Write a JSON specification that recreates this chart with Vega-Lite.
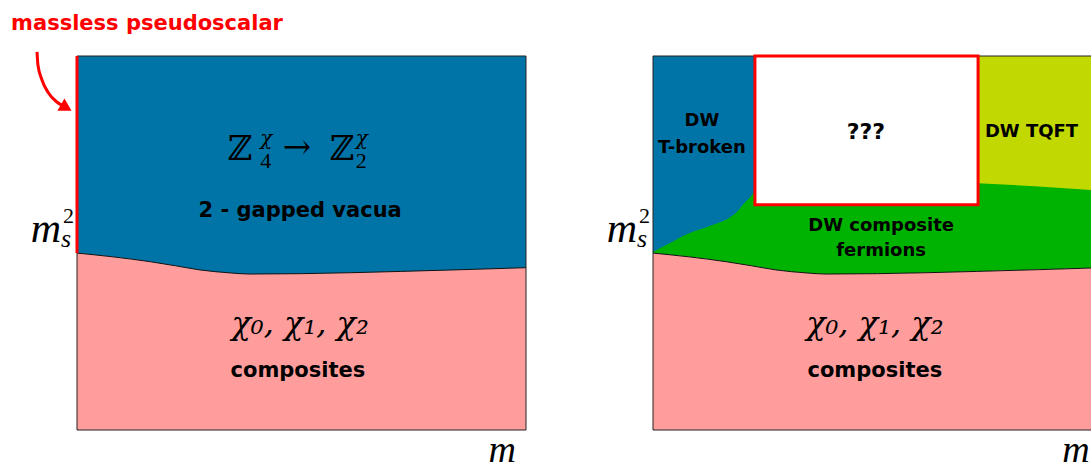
{
  "$schema": "https://vega.github.io/schema/vega-lite/v6.json",
  "autosize": {"type": "pad"},
  "padding": 0,
  "bounds": "flush",
  "spacing": 127,
  "background": "white",
  "config": {"view": {"stroke": null}, "axis": {"disable": true}},
  "datasets": {
    "boundary": [
      {"x": 0, "y": 0.473}, {"x": 0.08, "y": 0.463}, {"x": 0.163, "y": 0.45}, {"x": 0.22, "y": 0.439},
      {"x": 0.274, "y": 0.428}, {"x": 0.341, "y": 0.42}, {"x": 0.385, "y": 0.417}, {"x": 0.5, "y": 0.418},
      {"x": 0.72, "y": 0.424}, {"x": 1.0, "y": 0.434}
    ],
    "extent": [{"x1": -0.1713, "x2": 0, "y1": -0.1068, "y2": 1.1495}],
    "arrow": [
      {"x": -0.089, "y": 1.011}, {"x": -0.087, "y": 0.976}, {"x": -0.078, "y": 0.936},
      {"x": -0.065, "y": 0.904}, {"x": -0.045, "y": 0.877}, {"x": -0.03, "y": 0.866}
    ],
    "arrowhead": [{"x": -0.024, "y": 0.862}],
    "massless": [{"x": 0, "y1": 0.473, "y2": 1.0}],
    "frame": [{"x1": 0, "x2": 1, "y1": 0, "y2": 1}],
    "frameR": [
      {"x1": 0, "x2": 0.9755, "y1": 1, "y2": 1},
      {"x1": 0, "x2": 0.9755, "y1": 0, "y2": 0},
      {"x1": 0, "x2": 0, "y1": 0, "y2": 1}
    ],
    "blueR": [
      {"y": 0.476, "x": 0}, {"y": 0.5, "x": 0.038}, {"y": 0.527, "x": 0.082}, {"y": 0.545, "x": 0.125},
      {"y": 0.561, "x": 0.16}, {"y": 0.583, "x": 0.187}, {"y": 0.602, "x": 0.2}, {"y": 0.628, "x": 0.22},
      {"y": 0.655, "x": 0.235}, {"y": 1.0, "x": 0.235}
    ],
    "yellowR": [
      {"x": 0.7, "y": 0.662}, {"x": 0.724, "y": 0.66}, {"x": 0.85, "y": 0.652}, {"x": 1.0, "y": 0.64}
    ],
    "box": [{"x1": 0.227, "x2": 0.724, "y1": 0.602, "y2": 1.0, "label": "???", "lx": 0.474, "ly": 0.778}],
    "leftLabels": [
      {"x": 0.497, "y": 0.57, "t": "2 - gapped vacua"},
      {"x": 0.492, "y": 0.1417, "t": "composites"}
    ],
    "rightBig": [
      {"x": 0.494, "y": 0.1417, "t": "composites"}
    ],
    "rightLabels": [
      {"x": 0.109, "y": 0.813, "t": "DW"},
      {"x": 0.109, "y": 0.741, "t": "T-broken"},
      {"x": 0.843, "y": 0.784, "t": "DW TQFT"},
      {"x": 0.508, "y": 0.532, "t": "DW composite"},
      {"x": 0.508, "y": 0.466, "t": "fermions"}
    ],
    "note": [{"x": 0.156, "y": 1.0695, "t": "massless pseudoscalar"}],
    "chiLeft": [{"x": 0.497, "y": 0.257, "t": "χ₀, χ₁, χ₂"}],
    "chiRight": [{"x": 0.494, "y": 0.257, "t": "χ₀, χ₁, χ₂"}],
    "mathBig": [
      {"x": 0.336, "y": 0.722, "t": "ℤ"},
      {"x": 0.458, "y": 0.727, "t": "→"},
      {"x": 0.563, "y": 0.722, "t": "ℤ"}
    ],
    "mathSup": [
      {"x": 0.408, "y": 0.762, "t": "χ"},
      {"x": 0.621, "y": 0.762, "t": "χ"}
    ],
    "mathSub": [
      {"x": 0.408, "y": 0.701, "t": "4"},
      {"x": 0.621, "y": 0.701, "t": "2"}
    ],
    "msM": [{"x": -0.069, "y": 0.503, "t": "m"}],
    "msSup": [{"x": -0.031, "y": 0.553, "t": "2"}],
    "msSub": [{"x": -0.0356, "y": 0.489, "t": "s"}],
    "mAxisL": [{"x": 0.947, "y": -0.086, "t": "m"}],
    "mAxisR": [{"x": 0.942, "y": -0.086, "t": "m"}]
  },
  "hconcat": [
    {
      "width": 449,
      "height": 374,
      "layer": [
        {
          "data": {"name": "extent"},
          "mark": {"type": "rect", "fill": "#FFFFFF", "opacity": 0},
          "encoding": {
            "x": {"field": "x1", "type": "quantitative", "scale": {"domain": [0, 1], "nice": false, "zero": false}},
            "x2": {"field": "x2"},
            "y": {"field": "y1", "type": "quantitative", "scale": {"domain": [0, 1], "nice": false, "zero": false}},
            "y2": {"field": "y2"}
          }
        },
        {
          "data": {"name": "boundary"},
          "mark": {"type": "area", "color": "#FF9D9C", "opacity": 1, "interpolate": "monotone"},
          "encoding": {
            "x": {"field": "x", "type": "quantitative", "scale": {"domain": [0, 1], "nice": false, "zero": false}},
            "y": {"field": "y", "type": "quantitative", "scale": {"domain": [0, 1], "nice": false, "zero": false}},
            "y2": {"datum": 0}
          }
        },
        {
          "data": {"name": "boundary"},
          "mark": {"type": "area", "color": "#0174A7", "opacity": 1, "interpolate": "monotone"},
          "encoding": {
            "x": {"field": "x", "type": "quantitative", "scale": {"domain": [0, 1], "nice": false, "zero": false}},
            "y": {"field": "y", "type": "quantitative", "scale": {"domain": [0, 1], "nice": false, "zero": false}},
            "y2": {"datum": 1}
          }
        },
        {
          "data": {"name": "boundary"},
          "mark": {"type": "line", "color": "#111111", "strokeWidth": 1, "interpolate": "monotone"},
          "encoding": {
            "x": {"field": "x", "type": "quantitative", "scale": {"domain": [0, 1], "nice": false, "zero": false}},
            "y": {"field": "y", "type": "quantitative", "scale": {"domain": [0, 1], "nice": false, "zero": false}}
          }
        },
        {
          "data": {"name": "frame"},
          "mark": {"type": "rect", "fill": null, "stroke": "#222222", "strokeWidth": 1},
          "encoding": {
            "x": {"field": "x1", "type": "quantitative", "scale": {"domain": [0, 1], "nice": false, "zero": false}},
            "x2": {"field": "x2"},
            "y": {"field": "y1", "type": "quantitative", "scale": {"domain": [0, 1], "nice": false, "zero": false}},
            "y2": {"field": "y2"}
          }
        },
        {
          "data": {"name": "massless"},
          "mark": {"type": "rule", "color": "#FF0000", "strokeWidth": 3},
          "encoding": {
            "x": {"field": "x", "type": "quantitative", "scale": {"domain": [0, 1], "nice": false, "zero": false}},
            "y": {"field": "y1", "type": "quantitative", "scale": {"domain": [0, 1], "nice": false, "zero": false}},
            "y2": {"field": "y2"}
          }
        },
        {
          "data": {"name": "arrow"},
          "mark": {"type": "line", "color": "#FF0000", "strokeWidth": 3, "interpolate": "monotone"},
          "encoding": {
            "x": {"field": "x", "type": "quantitative", "scale": {"domain": [0, 1], "nice": false, "zero": false}},
            "y": {"field": "y", "type": "quantitative", "scale": {"domain": [0, 1], "nice": false, "zero": false}}
          }
        },
        {
          "data": {"name": "arrowhead"},
          "mark": {"type": "point", "shape": "triangle-up", "filled": true, "color": "#FF0000", "size": 200, "angle": 120, "opacity": 1},
          "encoding": {
            "x": {"field": "x", "type": "quantitative", "scale": {"domain": [0, 1], "nice": false, "zero": false}},
            "y": {"field": "y", "type": "quantitative", "scale": {"domain": [0, 1], "nice": false, "zero": false}}
          }
        },
        {
          "data": {"name": "note"},
          "mark": {"type": "text", "font": "DejaVu Sans", "fontWeight": "bold", "fontSize": 21, "color": "#FF0000", "align": "center", "baseline": "alphabetic"},
          "encoding": {
            "x": {"field": "x", "type": "quantitative", "scale": {"domain": [0, 1], "nice": false, "zero": false}},
            "y": {"field": "y", "type": "quantitative", "scale": {"domain": [0, 1], "nice": false, "zero": false}},
            "text": {"field": "t"}
          }
        },
        {
          "data": {"name": "leftLabels"},
          "mark": {"type": "text", "font": "DejaVu Sans", "fontWeight": "bold", "fontSize": 21, "color": "#000000", "align": "center", "baseline": "alphabetic"},
          "encoding": {
            "x": {"field": "x", "type": "quantitative", "scale": {"domain": [0, 1], "nice": false, "zero": false}},
            "y": {"field": "y", "type": "quantitative", "scale": {"domain": [0, 1], "nice": false, "zero": false}},
            "text": {"field": "t"}
          }
        },
        {
          "data": {"name": "chiLeft"},
          "mark": {"type": "text", "font": "DejaVu Serif", "fontStyle": "italic", "fontSize": 32, "color": "#000000", "align": "center", "baseline": "alphabetic"},
          "encoding": {
            "x": {"field": "x", "type": "quantitative", "scale": {"domain": [0, 1], "nice": false, "zero": false}},
            "y": {"field": "y", "type": "quantitative", "scale": {"domain": [0, 1], "nice": false, "zero": false}},
            "text": {"field": "t"}
          }
        },
        {
          "data": {"name": "mathBig"},
          "mark": {"type": "text", "font": "DejaVu Serif", "fontSize": 34, "color": "#000000", "align": "left", "baseline": "alphabetic"},
          "encoding": {
            "x": {"field": "x", "type": "quantitative", "scale": {"domain": [0, 1], "nice": false, "zero": false}},
            "y": {"field": "y", "type": "quantitative", "scale": {"domain": [0, 1], "nice": false, "zero": false}},
            "text": {"field": "t"}
          }
        },
        {
          "data": {"name": "mathSup"},
          "mark": {"type": "text", "font": "DejaVu Serif", "fontStyle": "italic", "fontSize": 20, "color": "#000000", "align": "left", "baseline": "alphabetic"},
          "encoding": {
            "x": {"field": "x", "type": "quantitative", "scale": {"domain": [0, 1], "nice": false, "zero": false}},
            "y": {"field": "y", "type": "quantitative", "scale": {"domain": [0, 1], "nice": false, "zero": false}},
            "text": {"field": "t"}
          }
        },
        {
          "data": {"name": "mathSub"},
          "mark": {"type": "text", "font": "Liberation Serif", "fontSize": 22, "color": "#000000", "align": "left", "baseline": "alphabetic"},
          "encoding": {
            "x": {"field": "x", "type": "quantitative", "scale": {"domain": [0, 1], "nice": false, "zero": false}},
            "y": {"field": "y", "type": "quantitative", "scale": {"domain": [0, 1], "nice": false, "zero": false}},
            "text": {"field": "t"}
          }
        },
        {
          "data": {"name": "msM"},
          "mark": {"type": "text", "font": "Liberation Serif", "fontStyle": "italic", "fontSize": 42, "color": "#000000", "align": "center", "baseline": "alphabetic"},
          "encoding": {
            "x": {"field": "x", "type": "quantitative", "scale": {"domain": [0, 1], "nice": false, "zero": false}},
            "y": {"field": "y", "type": "quantitative", "scale": {"domain": [0, 1], "nice": false, "zero": false}},
            "text": {"field": "t"}
          }
        },
        {
          "data": {"name": "msSup"},
          "mark": {"type": "text", "font": "Liberation Serif", "fontSize": 22, "color": "#000000", "align": "left", "baseline": "alphabetic"},
          "encoding": {
            "x": {"field": "x", "type": "quantitative", "scale": {"domain": [0, 1], "nice": false, "zero": false}},
            "y": {"field": "y", "type": "quantitative", "scale": {"domain": [0, 1], "nice": false, "zero": false}},
            "text": {"field": "t"}
          }
        },
        {
          "data": {"name": "msSub"},
          "mark": {"type": "text", "font": "Liberation Serif", "fontStyle": "italic", "fontSize": 26, "color": "#000000", "align": "left", "baseline": "alphabetic"},
          "encoding": {
            "x": {"field": "x", "type": "quantitative", "scale": {"domain": [0, 1], "nice": false, "zero": false}},
            "y": {"field": "y", "type": "quantitative", "scale": {"domain": [0, 1], "nice": false, "zero": false}},
            "text": {"field": "t"}
          }
        },
        {
          "data": {"name": "mAxisL"},
          "mark": {"type": "text", "font": "Liberation Serif", "fontStyle": "italic", "fontSize": 38, "color": "#000000", "align": "center", "baseline": "alphabetic"},
          "encoding": {
            "x": {"field": "x", "type": "quantitative", "scale": {"domain": [0, 1], "nice": false, "zero": false}},
            "y": {"field": "y", "type": "quantitative", "scale": {"domain": [0, 1], "nice": false, "zero": false}},
            "text": {"field": "t"}
          }
        }
      ]
    },
    {
      "width": 438,
      "height": 374,
      "layer": [
        {
          "data": {"name": "boundary"},
          "mark": {"type": "area", "color": "#00B300", "clip": true, "interpolate": "monotone"},
          "encoding": {
            "x": {"field": "x", "type": "quantitative", "scale": {"domain": [0, 0.9755], "nice": false, "zero": false}},
            "y": {"field": "y", "type": "quantitative", "scale": {"domain": [0, 1], "nice": false, "zero": false}},
            "y2": {"datum": 1}
          }
        },
        {
          "data": {"name": "boundary"},
          "mark": {"type": "area", "color": "#FF9D9C", "clip": true, "interpolate": "monotone"},
          "encoding": {
            "x": {"field": "x", "type": "quantitative", "scale": {"domain": [0, 0.9755], "nice": false, "zero": false}},
            "y": {"field": "y", "type": "quantitative", "scale": {"domain": [0, 1], "nice": false, "zero": false}},
            "y2": {"datum": 0}
          }
        },
        {
          "data": {"name": "blueR"},
          "mark": {"type": "area", "color": "#0174A7", "orient": "horizontal", "interpolate": "monotone"},
          "encoding": {
            "y": {"field": "y", "type": "quantitative", "scale": {"domain": [0, 1], "nice": false, "zero": false}},
            "x": {"field": "x", "type": "quantitative", "scale": {"domain": [0, 0.9755], "nice": false, "zero": false}},
            "x2": {"datum": 0}
          }
        },
        {
          "data": {"name": "yellowR"},
          "mark": {"type": "area", "color": "#C1D900", "clip": true},
          "encoding": {
            "x": {"field": "x", "type": "quantitative", "scale": {"domain": [0, 0.9755], "nice": false, "zero": false}},
            "y": {"field": "y", "type": "quantitative", "scale": {"domain": [0, 1], "nice": false, "zero": false}},
            "y2": {"datum": 1}
          }
        },
        {
          "data": {"name": "boundary"},
          "mark": {"type": "line", "color": "#111111", "strokeWidth": 1, "clip": true, "interpolate": "monotone"},
          "encoding": {
            "x": {"field": "x", "type": "quantitative", "scale": {"domain": [0, 0.9755], "nice": false, "zero": false}},
            "y": {"field": "y", "type": "quantitative", "scale": {"domain": [0, 1], "nice": false, "zero": false}}
          }
        },
        {
          "data": {"name": "frameR"},
          "mark": {"type": "rule", "color": "#222222", "strokeWidth": 1},
          "encoding": {
            "x": {"field": "x1", "type": "quantitative", "scale": {"domain": [0, 0.9755], "nice": false, "zero": false}},
            "x2": {"field": "x2"},
            "y": {"field": "y1", "type": "quantitative", "scale": {"domain": [0, 1], "nice": false, "zero": false}},
            "y2": {"field": "y2"}
          }
        },
        {
          "data": {"name": "box"},
          "mark": {"type": "rect", "fill": "#FFFFFF", "stroke": "#FF0000", "strokeWidth": 3},
          "encoding": {
            "x": {"field": "x1", "type": "quantitative", "scale": {"domain": [0, 0.9755], "nice": false, "zero": false}},
            "x2": {"field": "x2"},
            "y": {"field": "y1", "type": "quantitative", "scale": {"domain": [0, 1], "nice": false, "zero": false}},
            "y2": {"field": "y2"}
          }
        },
        {
          "data": {"name": "box"},
          "mark": {"type": "text", "font": "DejaVu Sans", "fontWeight": "bold", "fontSize": 22, "color": "#000000", "align": "center", "baseline": "alphabetic"},
          "encoding": {
            "x": {"field": "lx", "type": "quantitative", "scale": {"domain": [0, 0.9755], "nice": false, "zero": false}},
            "y": {"field": "ly", "type": "quantitative", "scale": {"domain": [0, 1], "nice": false, "zero": false}},
            "text": {"field": "label"}
          }
        },
        {
          "data": {"name": "rightLabels"},
          "mark": {"type": "text", "font": "DejaVu Sans", "fontWeight": "bold", "fontSize": 18, "color": "#000000", "align": "center", "baseline": "alphabetic"},
          "encoding": {
            "x": {"field": "x", "type": "quantitative", "scale": {"domain": [0, 0.9755], "nice": false, "zero": false}},
            "y": {"field": "y", "type": "quantitative", "scale": {"domain": [0, 1], "nice": false, "zero": false}},
            "text": {"field": "t"}
          }
        },
        {
          "data": {"name": "rightBig"},
          "mark": {"type": "text", "font": "DejaVu Sans", "fontWeight": "bold", "fontSize": 21, "color": "#000000", "align": "center", "baseline": "alphabetic"},
          "encoding": {
            "x": {"field": "x", "type": "quantitative", "scale": {"domain": [0, 0.9755], "nice": false, "zero": false}},
            "y": {"field": "y", "type": "quantitative", "scale": {"domain": [0, 1], "nice": false, "zero": false}},
            "text": {"field": "t"}
          }
        },
        {
          "data": {"name": "chiRight"},
          "mark": {"type": "text", "font": "DejaVu Serif", "fontStyle": "italic", "fontSize": 32, "color": "#000000", "align": "center", "baseline": "alphabetic"},
          "encoding": {
            "x": {"field": "x", "type": "quantitative", "scale": {"domain": [0, 0.9755], "nice": false, "zero": false}},
            "y": {"field": "y", "type": "quantitative", "scale": {"domain": [0, 1], "nice": false, "zero": false}},
            "text": {"field": "t"}
          }
        },
        {
          "data": {"name": "msM"},
          "mark": {"type": "text", "font": "Liberation Serif", "fontStyle": "italic", "fontSize": 42, "color": "#000000", "align": "center", "baseline": "alphabetic"},
          "encoding": {
            "x": {"field": "x", "type": "quantitative", "scale": {"domain": [0, 0.9755], "nice": false, "zero": false}},
            "y": {"field": "y", "type": "quantitative", "scale": {"domain": [0, 1], "nice": false, "zero": false}},
            "text": {"field": "t"}
          }
        },
        {
          "data": {"name": "msSup"},
          "mark": {"type": "text", "font": "Liberation Serif", "fontSize": 22, "color": "#000000", "align": "left", "baseline": "alphabetic"},
          "encoding": {
            "x": {"field": "x", "type": "quantitative", "scale": {"domain": [0, 0.9755], "nice": false, "zero": false}},
            "y": {"field": "y", "type": "quantitative", "scale": {"domain": [0, 1], "nice": false, "zero": false}},
            "text": {"field": "t"}
          }
        },
        {
          "data": {"name": "msSub"},
          "mark": {"type": "text", "font": "Liberation Serif", "fontStyle": "italic", "fontSize": 26, "color": "#000000", "align": "left", "baseline": "alphabetic"},
          "encoding": {
            "x": {"field": "x", "type": "quantitative", "scale": {"domain": [0, 0.9755], "nice": false, "zero": false}},
            "y": {"field": "y", "type": "quantitative", "scale": {"domain": [0, 1], "nice": false, "zero": false}},
            "text": {"field": "t"}
          }
        },
        {
          "data": {"name": "mAxisR"},
          "mark": {"type": "text", "font": "Liberation Serif", "fontStyle": "italic", "fontSize": 38, "color": "#000000", "align": "center", "baseline": "alphabetic"},
          "encoding": {
            "x": {"field": "x", "type": "quantitative", "scale": {"domain": [0, 0.9755], "nice": false, "zero": false}},
            "y": {"field": "y", "type": "quantitative", "scale": {"domain": [0, 1], "nice": false, "zero": false}},
            "text": {"field": "t"}
          }
        }
      ]
    }
  ]
}
